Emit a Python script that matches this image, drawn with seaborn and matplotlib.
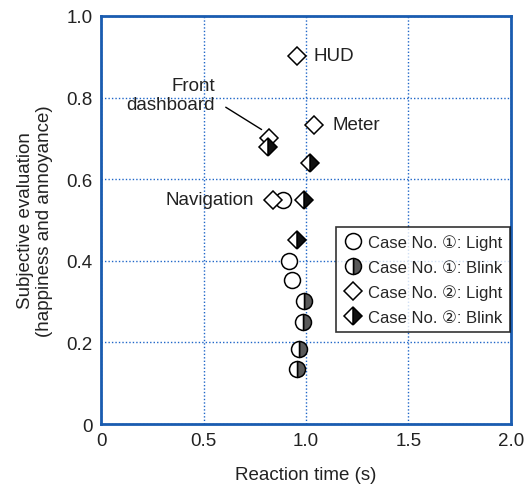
import matplotlib
matplotlib.use("Agg")
import matplotlib.pyplot as plt
import seaborn as sns
import pandas as pd
from matplotlib.lines import Line2D

# Data
c1_light_x = [0.89, 0.915, 0.93]
c1_light_y = [0.55, 0.40, 0.352]
c1_blink_x = [0.99, 0.983, 0.968, 0.954]
c1_blink_y = [0.302, 0.249, 0.183, 0.134]
c2_light_x = [0.955, 1.04, 0.82, 0.84]
c2_light_y = [0.903, 0.733, 0.702, 0.550]
c2_blink_x = [0.815, 1.02, 0.99, 0.955]
c2_blink_y = [0.679, 0.640, 0.550, 0.452]
legend_labels = ["Case No. ①: Light", "Case No. ①: Blink",
                 "Case No. ②: Light", "Case No. ②: Blink"]
x_ticks = [0, 0.5, 1.0, 1.5, 2.0]
x_ticklabels = ["0", "0.5", "1.0", "1.5", "2.0"]
y_ticks = [0, 0.2, 0.4, 0.6, 0.8, 1.0]
y_ticklabels = ["0", "0.2", "0.4", "0.6", "0.8", "1.0"]

sns.set_style("white")
plt.rcParams["font.family"] = ["Liberation Sans", "DejaVu Sans"]

fig = plt.figure(figsize=(5.25, 4.85), dpi=100)
ax = fig.add_axes([0.1924, 0.1237, 0.9733 - 0.1924, 0.965 - 0.1237])

SPINE = "#1a5cb0"
GRID = "#1f66c8"
TXT = "#222222"
FS = 13.5

ax.set_xlim(0, 2.0)
ax.set_ylim(0, 1.0)
ax.set_xticks(x_ticks)
ax.set_xticklabels(x_ticklabels)
ax.set_yticks(y_ticks)
ax.set_yticklabels(y_ticklabels)
ax.grid(True, color=GRID, linestyle=(0, (1, 1.5)), linewidth=1.0)
ax.set_axisbelow(True)
for s in ax.spines.values():
    s.set_color(SPINE)
    s.set_linewidth(2.0)
ax.tick_params(length=0, labelsize=FS, pad=6, colors=TXT)

series = [
    (c1_light_x, c1_light_y, "o", "full", "white", "white", 11.5),
    (c1_blink_x, c1_blink_y, "o", "right", "#5a5a5a", "white", 11.5),
    (c2_light_x, c2_light_y, "D", "full", "white", "white", 9.3),
    (c2_blink_x, c2_blink_y, "D", "right", "#111111", "white", 9.3),
]
handles = []
for (xs, ys, m, fs, fc, fca, ms), lab in zip(series, legend_labels):
    df = pd.DataFrame({"x": xs, "y": ys})
    sns.lineplot(data=df, x="x", y="y", ax=ax, estimator=None, sort=False,
                 linestyle="", marker=m, fillstyle=fs, markersize=ms,
                 markerfacecolor=fc, markerfacecoloralt=fca,
                 markeredgecolor="black", markeredgewidth=1.1,
                 color="black", zorder=3)
    handles.append(Line2D([], [], linestyle="", marker=m, fillstyle=fs,
                          markersize=ms, markerfacecolor=fc,
                          markerfacecoloralt=fca, markeredgecolor="black",
                          markeredgewidth=1.1))

ax.set_xlabel("Reaction time (s)", fontsize=FS, labelpad=12, color=TXT)
ax.set_ylabel("Subjective evaluation\n(happiness and annoyance)", fontsize=FS,
              labelpad=10, color=TXT, linespacing=1.1)

leg = ax.legend(handles, legend_labels, loc="upper right",
                bbox_to_anchor=(0.997, 0.483), fontsize=12, frameon=True,
                fancybox=False, edgecolor="black", handletextpad=0.35,
                borderpad=0.45, labelspacing=0.58, handlelength=1.1,
                borderaxespad=0.0)
leg.get_frame().set_linewidth(1.2)

# Annotations
ax.text(1.035, 0.903, "HUD", fontsize=FS, va="center", ha="left", color=TXT)
ax.text(1.13, 0.733, "Meter", fontsize=FS, va="center", ha="left", color=TXT)
ax.text(0.745, 0.550, "Navigation", fontsize=FS, va="center", ha="right", color=TXT)
ax.text(0.555, 0.806, "Front\ndashboard", fontsize=FS, va="center", ha="right",
        color=TXT, linespacing=1.2)
ax.annotate("", xy=(0.795, 0.718), xytext=(0.597, 0.780),
            arrowprops=dict(arrowstyle="-", color="black", lw=1.0))

fig.savefig("out.png", dpi=100)
